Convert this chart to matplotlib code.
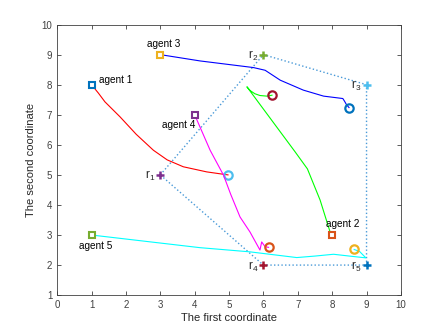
import matplotlib
matplotlib.use("Agg")
from matplotlib import pyplot as plt

plt.rcParams["font.family"] = ["Liberation Sans", "DejaVu Sans"]
plt.rcParams["mathtext.fontset"] = "custom"
plt.rcParams["mathtext.rm"] = "Liberation Sans"
plt.rcParams["mathtext.it"] = "Liberation Sans"

# target points r1..r5
r_x = [3, 6, 9, 6, 9]
r_y = [5, 9, 8, 2, 2]
r_colors = ["#7E2F8E", "#77AC30", "#4DBEEE", "#A2142F", "#0072BD"]
# dotted loop r1 -> r2 -> r3 -> r5 -> r4 -> r1
loop_order = [0, 1, 2, 4, 3, 0]

# agent trajectories
a1_x = [1, 1.2, 1.39, 1.83, 2.3, 2.8, 3.2, 3.67, 4.35, 4.84, 4.97]
a1_y = [8, 7.72, 7.43, 6.93, 6.35, 5.82, 5.5, 5.27, 5.1, 5.02, 5.0]
a2_x = [8, 7.94, 7.65, 7.28, 6.92, 5.52, 5.62, 5.75, 5.9, 6.1, 6.25]
a2_y = [3, 3.1, 4.16, 5.2, 5.77, 7.93, 7.8, 7.7, 7.64, 7.62, 7.65]
a3_x = [3, 4.16, 5.71, 6.05, 6.49, 7.16, 7.75, 8.31, 8.36, 8.42, 8.49]
a3_y = [9, 8.79, 8.57, 8.48, 8.15, 7.82, 7.62, 7.54, 7.45, 7.33, 7.24]
a4_x = [4, 4.45, 4.84, 5.05, 5.32, 5.61, 5.9, 5.95, 6.05, 6.15]
a4_y = [7, 5.82, 4.99, 4.35, 3.6, 3.1, 2.5, 2.77, 2.61, 2.59]
a5_x = [1, 4.15, 5.61, 6.97, 7.5, 8.04, 8.5, 8.98, 8.8, 8.64]
a5_y = [3, 2.58, 2.44, 2.25, 2.3, 2.36, 2.3, 2.24, 2.45, 2.52]

paths_x = [a1_x, a2_x, a3_x, a4_x, a5_x]
paths_y = [a1_y, a2_y, a3_y, a4_y, a5_y]
line_colors = ["#FF0000", "#00FF00", "#0000FF", "#FF00FF", "#00FFFF"]
start_colors = ["#0072BD", "#D95319", "#EDB120", "#7E2F8E", "#77AC30"]
end_colors = ["#4DBEEE", "#A2142F", "#0072BD", "#D95319", "#EDB120"]
agent_names = ["agent 1", "agent 2", "agent 3", "agent 4", "agent 5"]

fig = plt.figure(figsize=(4.43, 3.32), dpi=100)
ax = fig.add_subplot(111)
fig.subplots_adjust(left=0.129, right=0.905, bottom=0.111, top=0.926)

ax.plot([r_x[i] for i in loop_order], [r_y[i] for i in loop_order],
        ls=":", color="#4A9AD8", lw=1)

for i in range(5):
    ax.plot(paths_x[i], paths_y[i], color=line_colors[i], lw=0.8)
    ax.plot(paths_x[i][0], paths_y[i][0], "s", ms=5, mfc="white",
            mec=start_colors[i], mew=1.5)
    ax.plot(paths_x[i][-1], paths_y[i][-1], "o", ms=6, mfc="none",
            mec=end_colors[i], mew=1.6)

for i in range(5):
    ax.plot(r_x[i], r_y[i], "+", ms=6, color=r_colors[i], mew=1.8)
    ax.text(r_x[i] - 0.15, r_y[i] - 0.05, "r$_{%d}$" % (i + 1), fontsize=8.5,
            ha="right", va="center", color="#262626")

# agent labels
ax.text(1.22, 8.15, agent_names[0], fontsize=7.2, va="center")
ax.text(8.32, 3.36, agent_names[1], fontsize=7.2, va="center", ha="center")
ax.text(3.11, 9.37, agent_names[2], fontsize=7.2, va="center", ha="center")
ax.text(4.03, 6.65, agent_names[3], fontsize=7.2, va="center", ha="right")
ax.text(1.12, 2.63, agent_names[4], fontsize=7.2, va="center", ha="center")

ax.set_xlim(0, 10)
ax.set_ylim(1, 10)
ax.set_xticks(range(0, 11))
ax.set_yticks(range(1, 11))
ax.tick_params(direction="in", top=True, right=True, labelsize=7,
               colors="#404040", length=3, width=0.6)
for s in ax.spines.values():
    s.set_color("#404040")
    s.set_linewidth(0.6)
ax.set_xlabel("The first coordinate", fontsize=8, color="#262626", labelpad=2)
ax.set_ylabel("The second coordinate", fontsize=8, color="#262626", labelpad=4)

fig.savefig("out.png", dpi=100)
